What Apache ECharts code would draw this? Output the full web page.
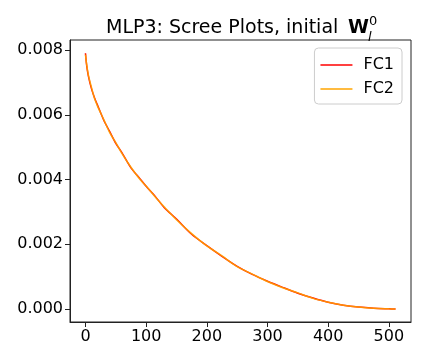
<!DOCTYPE html>
<html>
<head>
<meta charset="utf-8">
<script src="https://cdn.jsdelivr.net/npm/echarts@6/dist/echarts.min.js"></script>
<style>
  html, body { margin: 0; padding: 0; background: #fff; }
  #chart { width: 432px; height: 360px; }
</style>
</head>
<body>
<div id="chart"></div>
<script>
// 奇异值序号（读图取样）
var rankIdx = [0, 2, 5, 10, 15, 20, 30, 40, 50, 60, 75, 90, 100, 115, 130, 150, 175, 200,
               225, 250, 275, 300, 325, 350, 375, 400, 425, 450, 475, 500, 511];
// FC1 scree values
var fc1Vals = [0.00790, 0.00752, 0.00718, 0.00680, 0.00652, 0.00629, 0.00584, 0.00548, 0.00512,
               0.00483, 0.00436, 0.00402, 0.00379, 0.00348, 0.00313, 0.00278, 0.00231, 0.00196,
               0.00163, 0.00132, 0.00107, 0.00086, 0.00067, 0.00049, 0.00034, 0.00021, 0.00012,
               0.00006, 0.000025, 0.000008, 0.000002];
// FC2 scree values
var fc2Vals = [0.00786, 0.00755, 0.00721, 0.00684, 0.00650, 0.00626, 0.00586, 0.00545, 0.00514,
               0.00481, 0.00438, 0.00400, 0.00380, 0.00346, 0.00315, 0.00276, 0.00233, 0.00195,
               0.00164, 0.00131, 0.00108, 0.00085, 0.00066, 0.00050, 0.00033, 0.00021, 0.00012,
               0.00006, 0.000024, 0.000007, 0.000002];
var xTicks = [0, 100, 200, 300, 400, 500];
var yTicks = [0, 0.002, 0.004, 0.006, 0.008];

function pairs(xs, ys) {
    return xs.map(function (x, i) { return [x, ys[i]]; });
}

var chart = echarts.init(document.getElementById('chart'));
var font = 'DejaVu Sans';

chart.setOption({
    animation: false,
    textStyle: {fontFamily: font},
    grid: {
        left: 70, right: 21, top: 40, bottom: 38,
        show: true, borderColor: '#222', borderWidth: 1
    },
    graphic: [
        {type: 'text', left: 106, top: 19, style: {text: 'MLP3: Scree Plots, initial', font: '19px "DejaVu Sans"', fill: '#000'}},
        {type: 'text', left: 348, top: 19, style: {text: 'W', font: 'bold 19px "DejaVu Sans"', fill: '#000'}},
        {type: 'text', left: 369, top: 15, style: {text: '0', font: '13px "DejaVu Sans"', fill: '#000'}},
        {type: 'text', left: 368, top: 31, style: {text: 'l', font: 'italic 13px "DejaVu Sans"', fill: '#000'}}
    ],
    legend: {
        right: 30, top: 48,
        orient: 'vertical',
        itemGap: 8,
        itemWidth: 32,
        itemHeight: 1.5,
        icon: 'rect',
        padding: [9, 8, 7, 6],
        borderColor: '#ccc',
        borderWidth: 1,
        borderRadius: 4,
        backgroundColor: 'rgba(255,255,255,0.8)',
        textStyle: {fontSize: 16, color: '#000', fontFamily: font, padding: [0, 0, 0, 6]},
        data: ['FC1', 'FC2']
    },
    xAxis: {
        type: 'value',
        min: -25.5, max: 536.5,
        splitLine: {show: false},
        axisLine: {show: true, onZero: false, lineStyle: {color: '#222'}},
        axisTick: {show: true, length: 5, lineStyle: {color: '#222', width: 1}, customValues: xTicks},
        axisLabel: {fontSize: 16, color: '#000', margin: 7, customValues: xTicks}
    },
    yAxis: {
        type: 'value',
        min: -0.0004, max: 0.00831,
        splitLine: {show: false},
        axisLine: {show: true, onZero: false, lineStyle: {color: '#222'}},
        axisTick: {show: true, length: 5, lineStyle: {color: '#222', width: 1}, customValues: yTicks},
        axisLabel: {
            fontSize: 16, color: '#000', margin: 7, customValues: yTicks,
            formatter: function (v) { return v.toFixed(3); }
        }
    },
    series: [
        {
            name: 'FC1', type: 'line', data: pairs(rankIdx, fc1Vals),
            showSymbol: false, smooth: 0.3,
            lineStyle: {width: 1.5, color: '#ff0000'}, itemStyle: {color: '#ff0000'}
        },
        {
            name: 'FC2', type: 'line', data: pairs(rankIdx, fc2Vals),
            showSymbol: false, smooth: 0.3,
            lineStyle: {width: 1.5, color: '#ffa500', opacity: 0.85}, itemStyle: {color: '#ffa500'}
        }
    ]
});
</script>
</body>
</html>
